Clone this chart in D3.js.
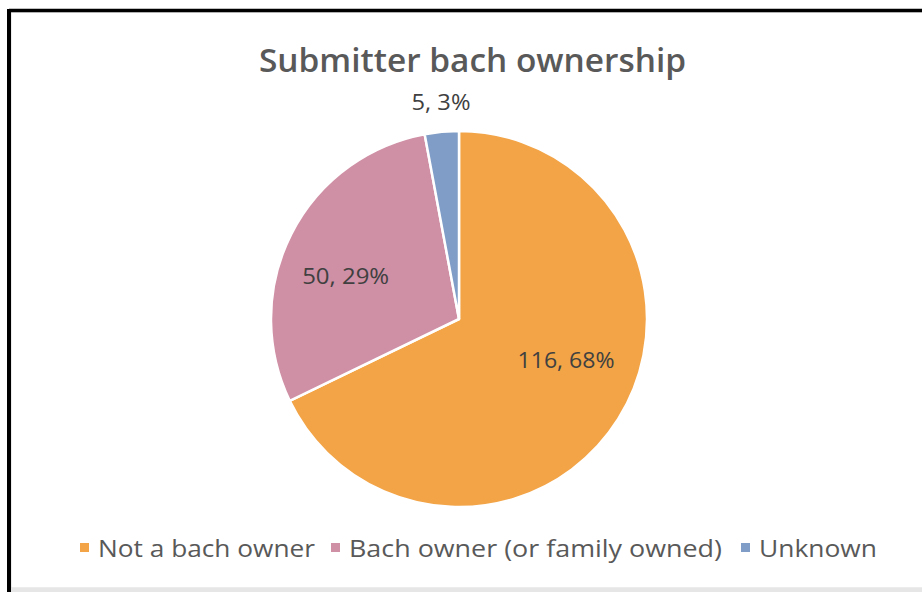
<!DOCTYPE html>
<html><head><meta charset="utf-8">
<script src="https://cdn.jsdelivr.net/npm/d3@7"></script>
<style>body{margin:0;background:#fff}svg{display:block}</style>
</head><body>
<svg id="c" width="922" height="592"></svg>
<script>
const categories = ["Not a bach owner", "Bach owner (or family owned)", "Unknown"];
const values = [116, 50, 5];
const percents = ["68%", "29%", "3%"];
const colors = ["#F2A447", "#CF8FA5", "#7F9DC6"];
const title = "Submitter bach ownership";

const svg = d3.select("#c");
svg.append("rect").attr("x",0).attr("y",0).attr("width",922).attr("height",592).attr("fill","#fff");
svg.append("rect").attr("x",11).attr("y",12).attr("width",920).attr("height",576).attr("fill","#fff").attr("stroke","#d9d9d9").attr("stroke-width",1);
svg.append("line").attr("x1",9).attr("x2",922).attr("y1",10.5).attr("y2",10.5).attr("stroke","#000").attr("stroke-width",3.5);
svg.append("line").attr("x1",9).attr("x2",9).attr("y1",9).attr("y2",592).attr("stroke","#000").attr("stroke-width",4);
svg.append("rect").attr("x",11).attr("y",588).attr("width",911).attr("height",4).attr("fill","#e6e6e6");

svg.append("text").attr("x",472.5).attr("y",72).attr("text-anchor","middle")
  .attr("font-family","'Open Sans', sans-serif").attr("font-weight",600).attr("font-size",32)
  .attr("textLength",427).attr("lengthAdjust","spacingAndGlyphs")
  .attr("fill","#595959").text(title);

const cx = 459, cy = 319, r = 188;
const pie = d3.pie().sort(null).value(d=>d)(values);
const arc = d3.arc().innerRadius(0).outerRadius(r);
const g = svg.append("g").attr("transform",`translate(${cx},${cy})`);
g.selectAll("path").data(pie).join("path").attr("d",arc)
  .attr("fill",(d,i)=>colors[i]).attr("stroke","#fff").attr("stroke-width",2.5).attr("stroke-linejoin","round");

// label placement (best-fit style): radius factor and angular shift (deg) from slice mid-angle
const labelR = [0.61, 0.645, 1.155];
const labelShift = [-11, -6, 0.5];
const labelW = [97, 87, 59];
g.selectAll("text.lbl").data(pie).join("text").attr("class","lbl")
  .attr("transform",(d,i)=>{
    const a=(d.startAngle+d.endAngle)/2 + labelShift[i]*Math.PI/180;
    const p=d3.pointRadial(a, r*labelR[i]);return `translate(${p[0]},${p[1]})`;})
  .attr("text-anchor","middle").attr("dy","0.35em")
  .attr("font-family","'Open Sans', sans-serif").attr("font-size",22).attr("fill","#404040")
  .attr("textLength",(d,i)=>labelW[i]).attr("lengthAdjust","spacingAndGlyphs")
  .text((d,i)=>`${values[i]}, ${percents[i]}`);

// legend
const legX = [80, 331, 741];
const legW = [217, 373, 118];
const lg = svg.append("g");
categories.forEach((c,i)=>{
  lg.append("rect").attr("x",legX[i]).attr("y",543).attr("width",9).attr("height",9).attr("fill",colors[i]);
  lg.append("text").attr("x",legX[i]+18).attr("y",557).attr("font-family","'Open Sans', sans-serif")
    .attr("font-size",24).attr("fill","#595959")
    .attr("textLength",legW[i]).attr("lengthAdjust","spacingAndGlyphs").text(c);
});
</script>
</body></html>
